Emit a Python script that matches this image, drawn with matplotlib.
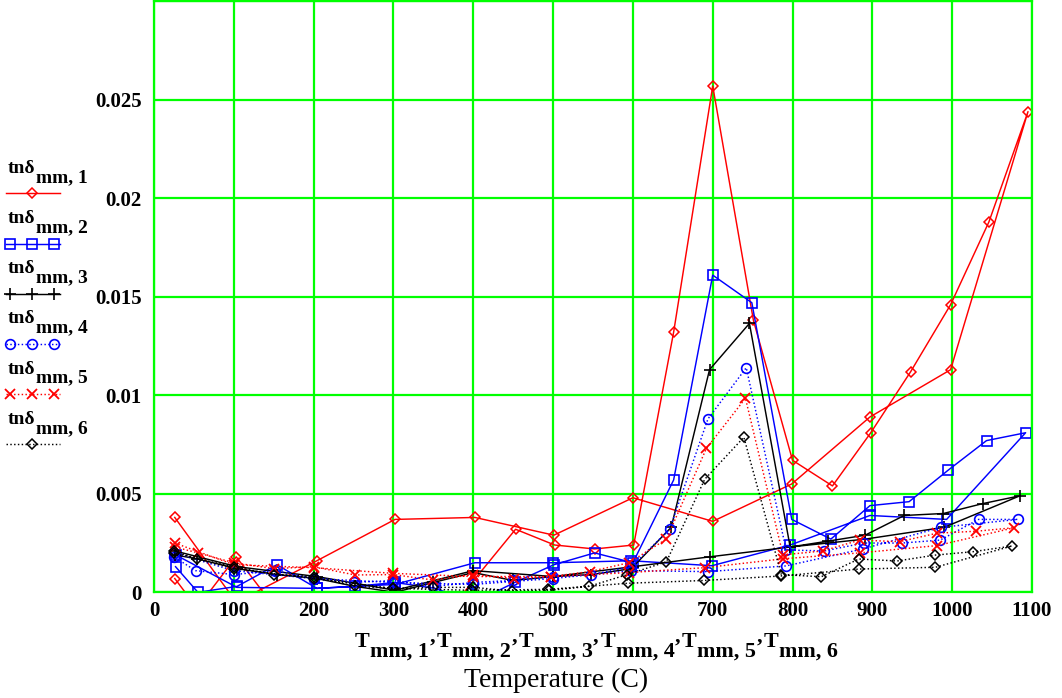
import matplotlib
matplotlib.use('Agg')
import matplotlib.pyplot as plt
from matplotlib.transforms import IdentityTransform
from matplotlib.lines import Line2D

plt.rcParams['font.family'] = ['Liberation Serif', 'DejaVu Serif']

# ---------------- data (heating pass followed by cooling pass) ----------------
T1 = [26, 103, 204, 302, 402, 501, 600, 700, 799, 897, 998, 1095,
      1046, 998, 948, 898, 850, 800, 751, 700, 651, 601, 552, 502, 453, 352, 252, 152, 103, 54, 26]
tn1 = [0.0038, -0.0005, 0.0016, 0.0037, 0.0038, 0.0029, 0.0048, 0.0036, 0.0055, 0.0089, 0.0113, 0.0244,
       0.0188, 0.0146, 0.0112, 0.0081, 0.0054, 0.0067, 0.0138, 0.0257, 0.0132, 0.0024, 0.0022, 0.0024, 0.0032,
       -0.0018, -0.0012, -0.0008, 0.0018, -0.0008, 0.0007]

T2 = [27, 104, 204, 302, 402, 500, 598, 699, 797, 897, 993, 1092,
      1043, 995, 946, 897, 848, 799, 749, 700, 651, 600, 552, 501, 452, 402, 352, 302, 252, 204, 154, 104, 55, 27]
tn2 = [0.0019, 0.00025, 0.0002, 0.0004, 0.0015, 0.0015, 0.0016, 0.00135, 0.0024, 0.0039, 0.0037, 0.0081,
       0.0077, 0.0062, 0.0046, 0.0044, 0.0027, 0.0037, 0.0147, 0.0161, 0.0057, 0.0015, 0.0020, 0.0014, 0.0005,
       -0.0005, 0.0002, 0.0005, 0.0003, 0.0002, 0.0014, 0.0003, 0.0000, 0.0013]

T3 = [26, 104, 204, 302, 400, 500, 600, 696, 797, 891, 990, 1085,
      1038, 989, 940, 891, 845, 797, 746, 696, 648, 598, 548, 500, 450, 400, 350, 302, 252, 204, 154, 104, 54, 26]
tn3 = [0.0021, 0.0013, 0.0008, 0.0001, 0.0011, 0.0008, 0.0013, 0.0018, 0.0023, 0.0027, 0.0033, 0.0049,
       0.0045, 0.0040, 0.0039, 0.0029, 0.0026, 0.0023, 0.01365, 0.0113, 0.0033, 0.0012, 0.0009, 0.0008, 0.0006,
       0.0010, 0.0005, 0.0000, 0.0003, 0.0007, 0.0009, 0.0012, 0.0017, 0.0019]

T4 = [25, 100, 200, 300, 400, 500, 598, 694, 792, 888, 986, 1082,
      1033, 985, 937, 889, 840, 792, 742, 694, 646, 598, 548, 500, 450, 400, 350, 300, 250, 200, 152, 100, 52, 25]
tn4 = [0.0020, 0.0011, 0.0007, 0.0005, 0.0004, 0.0007, 0.0011, 0.00105, 0.00134, 0.0022, 0.0033, 0.0037,
       0.0037, 0.00265, 0.0025, 0.0025, 0.0021, 0.00215, 0.0114, 0.0088, 0.0032, 0.0013, 0.0009, 0.0008, 0.0006,
       0.0005, 0.0003, 0.0006, 0.0005, 0.0007, 0.0011, 0.0009, 0.0011, 0.0018]

T5 = [26, 100, 200, 300, 400, 497, 595, 690, 788, 884, 981, 1078,
      1030, 981, 934, 884, 838, 788, 741, 692, 642, 595, 546, 497, 451, 400, 350, 300, 252, 200, 150, 100, 55, 26]
tn5 = [0.0025, 0.0014, 0.00125, 0.00096, 0.0008, 0.0008, 0.0010, 0.00125, 0.0017, 0.0020, 0.00237, 0.00328,
       0.0031, 0.0030, 0.00257, 0.00265, 0.0021, 0.0019, 0.00985, 0.0073, 0.0027, 0.0015, 0.00105, 0.0008, 0.0007,
       0.0009, 0.00062, 0.0009, 0.00088, 0.0013, 0.0012, 0.0015, 0.0020, 0.0023]

T6 = [25, 100, 200, 300, 398, 494, 594, 689, 786, 883, 979, 1075,
      1026, 979, 931, 883, 836, 786, 739, 690, 642, 593, 545, 495, 448, 400, 350, 300, 252, 200, 150, 100, 54, 25]
tn6 = [0.0020, 0.0012, 0.0007, 0.0002, 0.0001, 0.00015, 0.00046, 0.0006, 0.00083, 0.00118, 0.00127, 0.00235,
       0.00206, 0.00189, 0.00159, 0.00169, 0.00079, 0.0009, 0.00787, 0.00574, 0.00155, 0.0009, 0.0003, 0.0001,
       0.00007, 0.00025, 0.00025, 0.0002, 0.0003, 0.0008, 0.0009, 0.0013, 0.0017, 0.0021]

series_T = [T1, T2, T3, T4, T5, T6]
series_tn = [tn1, tn2, tn3, tn4, tn5, tn6]
legend_idx = ['1', '2', '3', '4', '5', '6']

xticks = [0, 100, 200, 300, 400, 500, 600, 700, 800, 900, 1000, 1100]
yticks = [0, 0.005, 0.01, 0.015, 0.02, 0.025]
yticklabels = ['0', '0.005', '0.01', '0.015', '0.02', '0.025']

# ---------------- styles ----------------
dot = (0, (1, 1.6))
styles = [
    dict(color='#ff0000', ls='-', marker='D', ms=4.8, mfc='none', mew=1.1),
    dict(color='#0000ff', ls='-', marker='s', ms=6.8, mfc='none', mew=1.2),
    dict(color='#000000', ls='-', marker='+', ms=8.5, mew=1.2),
    dict(color='#0000ff', ls=dot, marker='o', ms=7, mfc='none', mew=1.2),
    dict(color='#ff0000', ls=dot, marker='x', ms=7.2, mew=1.3),
    dict(color='#000000', ls=dot, marker='D', ms=5.3, mfc='none', mew=1.1),
]

W, H = 1062, 698
fig = plt.figure(figsize=(W / 100, H / 100), dpi=100)
ax = fig.add_axes([154 / W, (H - 592.3) / H, (1032 - 154) / W, (592.3 - 1.3) / H])

for T, v, st in zip(series_T, series_tn, styles):
    ax.plot(T, v, lw=1.05, **st)

ax.set_xlim(0, 1100)
ax.set_ylim(0, 0.03)
ax.set_xticks(xticks)
ax.set_xticklabels([str(t) for t in xticks])
ax.set_yticks(yticks + [0.03])
ax.set_yticklabels(yticklabels + [''])
ax.grid(True, color='#00ff00', lw=1.6)
ax.set_axisbelow(True)
for s in ax.spines.values():
    s.set_color('#00ff00')
    s.set_linewidth(1.6)
ax.tick_params(length=0, labelsize=15)
ax.tick_params(axis='y', pad=9)
ax.tick_params(axis='x', pad=6)
for lbl in ax.get_xticklabels() + ax.get_yticklabels():
    lbl.set_fontweight('bold')

fig.canvas.draw()
renderer = fig.canvas.get_renderer()
ident = IdentityTransform()


def put(x, ytop, s, size, weight='bold', ha='left'):
    t = fig.text(x, H - ytop, s, transform=ident, fontsize=size, fontweight=weight,
                 ha=ha, va='baseline')
    return t.get_window_extent(renderer).x1


# ---------------- legend (left of the plot) ----------------
for i, (st, k) in enumerate(zip(styles, legend_idx)):
    yl = 193.3 + 50.2 * i
    x = put(8, yl - 20.5, 'tnδ', 14)
    put(x + 0.5, yl - 11.5, 'mm, ' + k, 14)
    if i in (0, 5):
        xs, me = [6, 32, 60], [1]
    else:
        xs, me = [6, 10, 32, 54, 60], [1, 2, 3]
    ln = Line2D(xs, [H - yl] * len(xs), transform=ident, lw=1.05, markevery=me, **st)
    fig.add_artist(ln)

# ---------------- x axis label ----------------
x = 355
for k in legend_idx:
    x = put(x, 647, 'T', 15.8)
    x = put(x + 0.5, 657, 'mm, ' + k, 15.8)
    if k != '6':
        x = put(x + 0.5, 642, ',', 15.8) + 1.5

put(556, 687, 'Temperature (C)', 20, weight='normal', ha='center')

fig.savefig('out.png', dpi=100)
